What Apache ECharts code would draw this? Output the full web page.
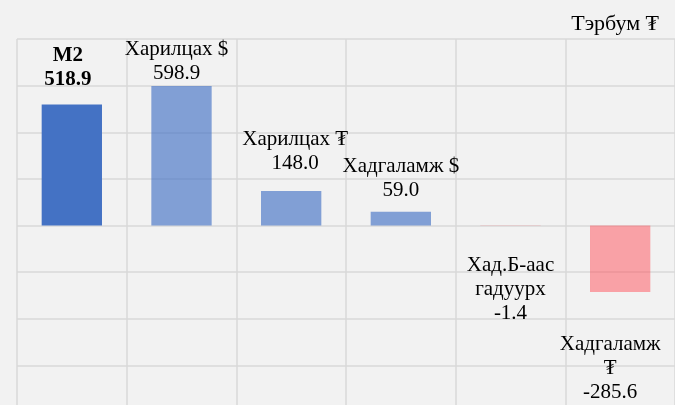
<!DOCTYPE html>
<html>
<head>
<meta charset="utf-8">
<script src="https://cdn.jsdelivr.net/npm/echarts@6/dist/echarts.min.js"></script>
<style>
  html, body { margin: 0; padding: 0; background: #f2f2f2; }
  #chart { width: 675px; height: 405px; }
</style>
</head>
<body>
<div id="chart"></div>
<script>
// өгөгдөл
const categories = ['M2', 'Харилцах $', 'Харилцах ₮', 'Хадгаламж $', 'Хад.Б-аас\nгадуурх', 'Хадгаламж\n₮']
const values = [518.9, 598.9, 148.0, 59.0, -1.4, -285.6]
const barColors = ['#4472c4', 'rgba(68,114,196,0.65)', 'rgba(68,114,196,0.65)', 'rgba(68,114,196,0.65)',
  'rgba(255,80,90,0.5)', 'rgba(255,80,90,0.5)']

// шошгын байрлал (Excel дээр гараар зөөсөн)
const labelGap = [13, 0, 16, 9, 28, 40]
const labelShift = [-4, -5, 4, 0, 0, -10]

const serif = '"Liberation Serif", "DejaVu Serif", serif'
const chart = echarts.init(document.getElementById('chart'))

chart.setOption({
  backgroundColor: '#f2f2f2',
  textStyle: { fontFamily: serif },
  title: {
    text: 'Тэрбум ₮',
    right: 11, top: 8,
    textStyle: { fontSize: 22, fontWeight: 'normal', color: '#000', fontFamily: serif }
  },
  grid: { left: 17, right: 0, top: 39, height: 373, outerBoundsMode: 'none', containLabel: false },
  xAxis: {
    type: 'category',
    data: categories,
    axisLine: { show: false },
    axisTick: { show: false },
    axisLabel: { show: false },
    splitLine: { show: true, lineStyle: { color: '#d9d9d9', width: 1.5 } }
  },
  yAxis: {
    type: 'value',
    min: -800, max: 800, interval: 200,
    axisLine: { show: false },
    axisTick: { show: false },
    axisLabel: { show: false },
    splitLine: { lineStyle: { color: '#d9d9d9', width: 1.5 } }
  },
  series: [{
    type: 'bar',
    barWidth: '55%',
    animation: false,
    data: values.map((v, i) => ({
      value: v,
      itemStyle: { color: barColors[i] },
      label: {
        show: true,
        position: v >= 0 ? 'top' : 'bottom',
        distance: labelGap[i],
        offset: [labelShift[i], 0],
        fontSize: 21,
        lineHeight: 24,
        color: '#000',
        fontFamily: serif,
        fontWeight: i === 0 ? 'bold' : 'normal',
        formatter: categories[i] + '\n' + v.toFixed(1)
      }
    }))
  }]
})
</script>
</body>
</html>
